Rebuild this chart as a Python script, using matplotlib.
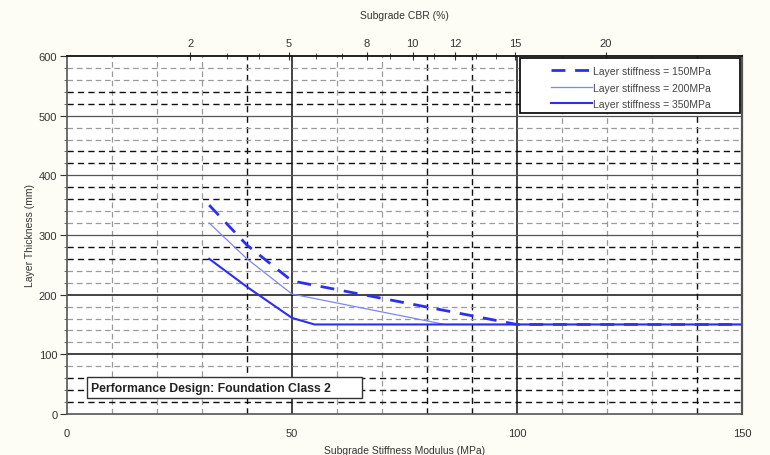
import matplotlib
matplotlib.use("Agg")
import matplotlib.pyplot as plt
from matplotlib.patches import Rectangle
import numpy as np

plt.rcParams["font.family"] = ["Liberation Sans", "DejaVu Sans"]

# Subgrade stiffness modulus (MPa) vs layer thickness (mm)
x_150 = [31.6, 40, 50, 100, 150]
y_150 = [350, 283, 223, 150, 150]
x_200 = [31.6, 40, 50, 84, 150]
y_200 = [320, 260, 201, 150, 150]
x_350 = [31.6, 40, 50, 55, 150]
y_350 = [260, 213, 161, 150, 150]

labels = ["Layer stiffness = 150MPa", "Layer stiffness = 200MPa", "Layer stiffness = 350MPa"]
cbr_labels = [2, 5, 8, 10, 12, 15, 20]
cbr_minor = [3, 4, 6, 7, 9, 11, 13, 14]
x_ticks = [0, 50, 100, 150]
y_ticks = [0, 100, 200, 300, 400, 500, 600]


def e_to_cbr(e):
    e = np.asarray(e, dtype=float)
    return np.where(e > 0, (np.clip(e, 1e-9, None) / 17.6) ** (1 / 0.64), 0.0)


def cbr_to_e(c):
    c = np.asarray(c, dtype=float)
    return 17.6 * np.clip(c, 0, None) ** 0.64


text_color = "#333333"
blue = "#2E2EF2"
blue_thin = "#7F86F5"

fig = plt.figure(figsize=(7.7, 4.56), dpi=100, facecolor="#FDFDF6")
ax = fig.add_axes([0.087, 0.09, 0.8766, 0.785])
ax.set_facecolor("white")
ax.set_xlim(0, 150)
ax.set_ylim(0, 600)

# grid drawn by hand to match the mixed styles of the original
grid_gray = dict(color="#9A9A9A", linewidth=0.9, dashes=(4.5, 3), zorder=1)
grid_black = dict(color="#111111", linewidth=1.0, dashes=(4.5, 3), zorder=1)
for xv in [10, 20, 30, 60, 70, 110, 120, 130]:
    ax.axvline(xv, **grid_gray)
for xv in [40, 80, 90, 140]:
    ax.axvline(xv, **grid_black)
for xv in [50, 100]:
    ax.axvline(xv, color="#111111", linewidth=1.1, zorder=1)
for yv in [80, 120, 140, 160, 180, 220, 240, 320, 340, 460, 480, 560, 580]:
    ax.axhline(yv, **grid_gray)
for yv in [20, 40, 60, 260, 280, 360, 380, 420, 440, 520, 540]:
    ax.axhline(yv, **grid_black)
for yv in [300, 400, 500]:
    ax.axhline(yv, color="#555555", linewidth=0.9, zorder=1)
for yv in [100, 200]:
    ax.axhline(yv, color="#111111", linewidth=1.1, zorder=1)

ax.plot(x_150, y_150, color=blue, linewidth=2.0, dashes=(5, 3.5), label=labels[0], zorder=3)
ax.plot(x_200, y_200, color=blue_thin, linewidth=0.9, label=labels[1], zorder=3)
ax.plot(x_350, y_350, color=blue, linewidth=1.5, label=labels[2], zorder=3)

ax.set_xticks(x_ticks)
ax.set_yticks(y_ticks)
ax.set_yticks(np.arange(0, 601, 20), minor=True)
ax.tick_params(axis="x", length=0, pad=10, labelsize=8, colors=text_color)
ax.tick_params(axis="y", which="major", length=5, pad=2, labelsize=8, colors=text_color)
ax.tick_params(axis="y", which="minor", length=2, color="#555555")
ax.set_xlabel("Subgrade Stiffness Modulus (MPa)", fontsize=7.5, color=text_color, labelpad=5)
ax.set_ylabel("Layer Thickness (mm)", fontsize=7.5, color=text_color)
ax.yaxis.set_label_coords(-0.048, 0.5)

for side in ["left", "bottom", "right"]:
    ax.spines[side].set_color("#555555")
    ax.spines[side].set_linewidth(1.2)
ax.spines["right"].set_linewidth(1.6)
ax.spines["top"].set_color("#111111")
ax.spines["top"].set_linewidth(1.3)

top = ax.secondary_xaxis("top", functions=(e_to_cbr, cbr_to_e))
top.set_xticks(cbr_labels)
top.set_xticks(cbr_minor, minor=True)
top.tick_params(which="major", direction="inout", length=6, labelsize=8, colors=text_color, pad=3)
top.tick_params(which="minor", direction="inout", length=5, color="#333333")
top.set_xlabel("Subgrade CBR (%)", fontsize=7.5, color=text_color, labelpad=14)
top.spines["top"].set_visible(False)

# legend frame drawn separately so it can be wider than its content
ax.add_patch(Rectangle((0.671, 0.842), 0.326, 0.152, transform=ax.transAxes,
                       facecolor="white", edgecolor="#111111", linewidth=1.3, zorder=4))
leg = ax.legend(loc="center", bbox_to_anchor=(0.836, 0.912), fontsize=7.5,
                frameon=False, handlelength=3.9, handletextpad=0.15,
                labelspacing=0.62, borderpad=0.2)
leg.set_zorder(5)
for t in leg.get_texts():
    t.set_color("#444444")

ax.add_patch(Rectangle((4.4, 27), 61.2, 35, facecolor="white", edgecolor="#333333",
                       linewidth=1.0, zorder=4))
ax.text(5.3, 44, "Performance Design: Foundation Class 2", fontsize=8.8,
        fontweight="bold", color="#222222", va="center", ha="left", zorder=5)

fig.savefig("out.png", dpi=100, facecolor=fig.get_facecolor())
